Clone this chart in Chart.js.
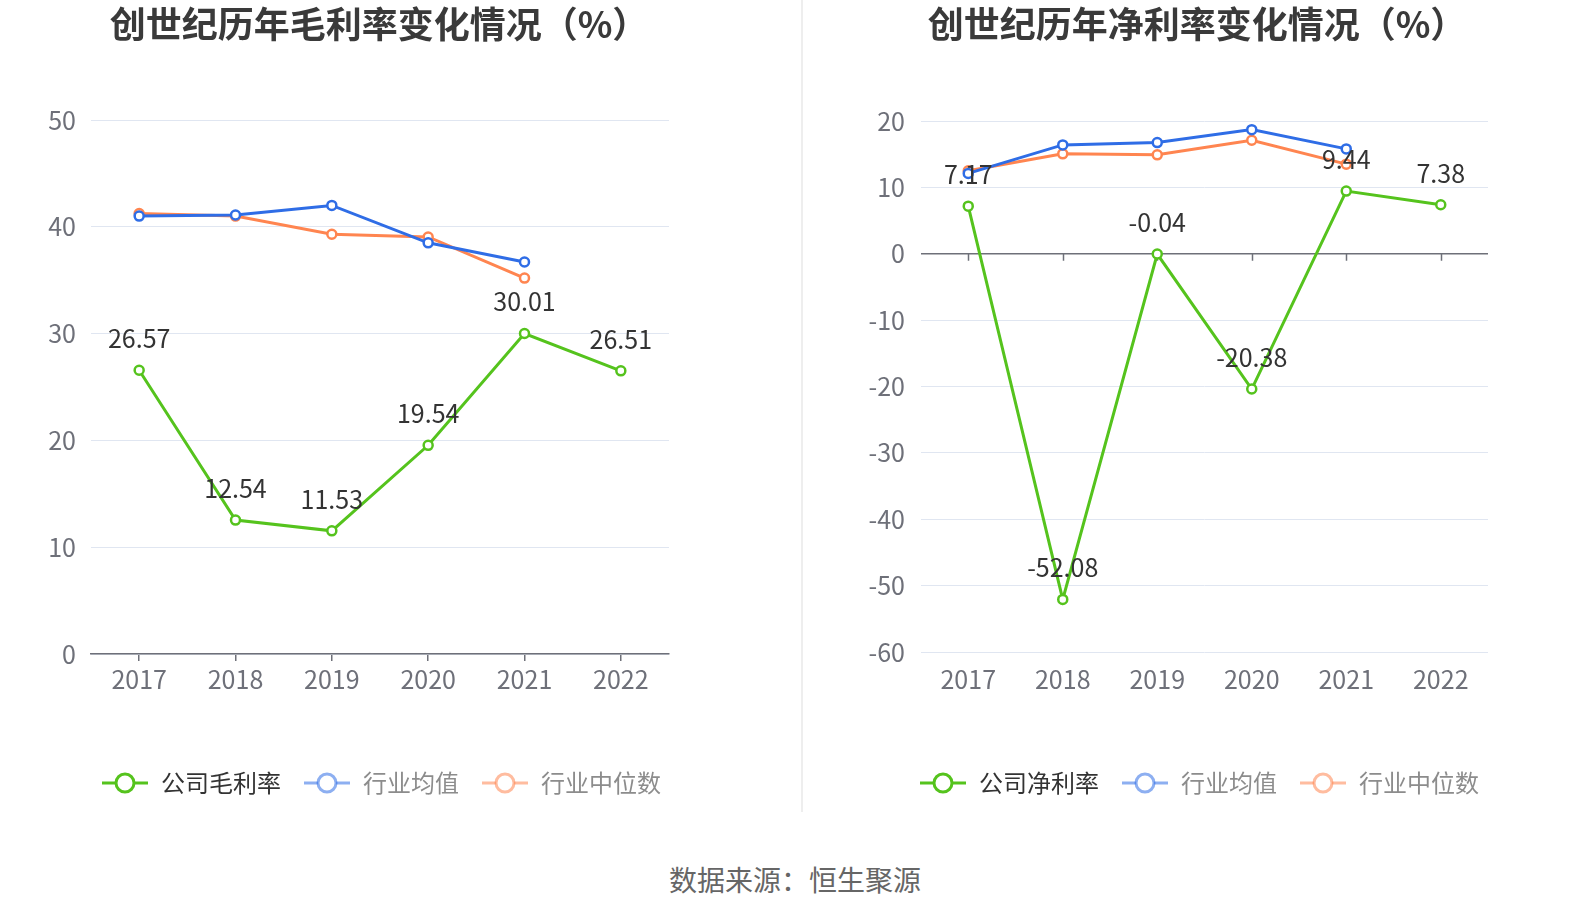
<!DOCTYPE html>
<html lang="zh-CN">
<head>
<meta charset="UTF-8">
<title>创世纪历年毛利率、净利率变化情况</title>
<script src="https://cdn.jsdelivr.net/npm/chart.js"></script>
<style>
  body { margin: 0; background: #ffffff; font-family: 'Noto Sans CJK SC', 'Noto Sans', sans-serif; }
  #page { position: relative; width: 1590px; height: 918px; overflow: hidden; }
  .box { position: absolute; top: 0; height: 805px; }
  #leftBox { left: 0; width: 790px; }
  #rightBox { left: 795px; width: 795px; }
  #divider { position: absolute; left: 801px; top: 0; width: 2px; height: 812px; background: #eeeeee; }
  .title { position: absolute; top: 2px; height: 40px; line-height: 40px; text-align: center;
           font-size: 36px; font-weight: bold; color: #3a3a3a; white-space: nowrap; }
  #leftTitle { left: 9px; width: 740px; }
  #rightTitle { left: 804px; width: 786px; }
  #source { position: absolute; left: 0; width: 1590px; top: 863px; text-align: center;
            font-size: 28px; line-height: 32px; color: #666666; }
</style>
</head>
<body>
<div id="page">
  <div class="box" id="leftBox"><canvas id="grossChart"></canvas></div>
  <div id="divider"></div>
  <div class="box" id="rightBox"><canvas id="netChart"></canvas></div>
  <div class="title" id="leftTitle">创世纪历年毛利率变化情况（%）</div>
  <div class="title" id="rightTitle">创世纪历年净利率变化情况（%）</div>
  <div id="source">数据来源：恒生聚源</div>
</div>

<script>
  const YEARS = ['2017', '2018', '2019', '2020', '2021', '2022'];

  // 毛利率 (%)
  const GROSS_COMPANY = [26.57, 12.54, 11.53, 19.54, 30.01, 26.51];
  const GROSS_IND_AVG = [41.0, 41.1, 42.0, 38.5, 36.7, null];
  const GROSS_IND_MED = [41.25, 41.0, 39.3, 39.05, 35.2, null];

  // 净利率 (%)
  const NET_COMPANY = [7.17, -52.08, -0.04, -20.38, 9.44, 7.38];
  const NET_IND_AVG = [12.1, 16.4, 16.75, 18.7, 15.8, null];
  const NET_IND_MED = [12.5, 15.05, 14.9, 17.1, 13.5, null];

  const GREEN = '#55c31d';
  const BLUE = '#2f6de6';
  const ORANGE = '#ff8550';
  const AXIS = '#6e7079';
  const GRID = '#e0e6f1';
  const FONT = "'Noto Sans CJK SC', 'Noto Sans', sans-serif";

  // legend icon: short line with a ring in the middle
  function legendIcon(color, alpha) {
    const c = document.createElement('canvas');
    c.width = 48; c.height = 26;
    const g = c.getContext('2d');
    g.globalAlpha = alpha;
    g.strokeStyle = color;
    g.lineWidth = 3;
    g.beginPath(); g.moveTo(1, 13); g.lineTo(47, 13); g.stroke();
    g.globalAlpha = 1;
    g.fillStyle = '#ffffff';
    g.beginPath(); g.arc(24, 13, 9, 0, Math.PI * 2); g.fill();
    g.globalAlpha = alpha;
    g.lineWidth = 3;
    g.beginPath(); g.arc(24, 13, 9, 0, Math.PI * 2); g.stroke();
    return c;
  }

  const valueLabels = {
    id: 'valueLabels',
    afterDatasetsDraw(chart) {
      const ctx = chart.ctx;
      const meta = chart.getDatasetMeta(0);
      const data = chart.data.datasets[0].data;
      ctx.save();
      ctx.font = '25px ' + FONT;
      ctx.fillStyle = '#333333';
      ctx.textAlign = 'center';
      ctx.textBaseline = 'alphabetic';
      meta.data.forEach((pt, i) => {
        ctx.fillText(data[i].toFixed(2), pt.x, pt.y - 22);
      });
      ctx.restore();
    }
  };

  // small tick marks on the zero line of the net-margin chart
  const zeroTicks = {
    id: 'zeroTicks',
    beforeDatasetsDraw(chart) {
      if (!chart.options.plugins.zeroTicks) return;
      const x = chart.scales.x, y = chart.scales.y;
      const y0 = y.getPixelForValue(0);
      const ctx = chart.ctx;
      ctx.save();
      ctx.strokeStyle = AXIS;
      ctx.lineWidth = 1.5;
      YEARS.forEach((_, i) => {
        const px = Math.round(x.getPixelForValue(i)) + 0.5;
        ctx.beginPath(); ctx.moveTo(px, y0); ctx.lineTo(px, y0 + 7); ctx.stroke();
      });
      ctx.restore();
    }
  };

  function lineSet(label, data, color) {
    return {
      label: label,
      data: data,
      yAxisID: 'y',
      borderColor: color,
      backgroundColor: '#ffffff',
      borderWidth: 3,
      pointRadius: 4.5,
      pointHoverRadius: 5,
      pointBorderWidth: 2.5,
      pointBackgroundColor: '#ffffff',
      pointBorderColor: color,
      tension: 0,
      spanGaps: false
    };
  }

  function makeChart(id, cfg) {
    const icons = [legendIcon(GREEN, 1), legendIcon(BLUE, 0.55), legendIcon(ORANGE, 0.55)];
    const textColors = ['#333333', '#8c8c8c', '#8c8c8c'];
    new Chart(document.getElementById(id), {
      type: 'line',
      data: {
        labels: YEARS,
        datasets: [
          lineSet(cfg.companyLabel, cfg.company, GREEN),
          lineSet('行业均值', cfg.avg, BLUE),
          lineSet('行业中位数', cfg.med, ORANGE)
        ]
      },
      plugins: [valueLabels, zeroTicks],
      options: {
        responsive: true,
        maintainAspectRatio: false,
        animation: false,
        layout: { padding: { left: cfg.padLeft, right: cfg.padRight, top: cfg.padTop, bottom: 0 } },
        plugins: {
          zeroTicks: cfg.zeroTicks,
          title: { display: false },
          legend: {
            position: 'bottom',
            labels: {
              usePointStyle: true,
              pointStyleWidth: 48,
              padding: 22,
              font: { family: FONT, size: 24 },
              generateLabels: chart => chart.data.datasets.map((ds, i) => ({
                text: ds.label,
                fillStyle: ds.borderColor,
                strokeStyle: ds.borderColor,
                pointStyle: icons[i],
                fontColor: textColors[i],
                hidden: !chart.isDatasetVisible(i),
                datasetIndex: i
              }))
            }
          },
          tooltip: { enabled: false }
        },
        scales: {
          x: {
            offset: true,
            afterFit: s => { s.height = cfg.xHeight; },
            border: { display: cfg.xBorder, color: AXIS, width: 1.5 },
            grid: {
              display: cfg.xBorder,
              drawOnChartArea: false,
              drawTicks: true,
              tickLength: 7,
              color: AXIS,
              lineWidth: 1.5
            },
            ticks: { color: AXIS, padding: cfg.xPad, font: { family: FONT, size: 25 }, maxRotation: 0 }
          },
          y: {
            min: cfg.min,
            max: cfg.max,
            afterFit: s => { s.width = cfg.yWidth; },
            border: { display: false },
            grid: {
              drawTicks: false,
              color: c => (c.tick && c.tick.value === 0 && cfg.zeroTicks) ? AXIS : GRID,
              lineWidth: c => (c.tick && c.tick.value === 0 && cfg.zeroTicks) ? 1.5 : 1
            },
            ticks: { stepSize: 10, color: AXIS, padding: cfg.yPad, font: { family: FONT, size: 25 } }
          },
          // empty right-hand spacer so the legend centres under the plot
          spacer: {
            axis: 'y',
            position: 'right',
            afterFit: s => { s.width = cfg.spacer; },
            border: { display: false },
            grid: { display: false },
            ticks: { display: false }
          }
        }
      }
    });
  }

  makeChart('grossChart', {
    companyLabel: '公司毛利率',
    company: GROSS_COMPANY, avg: GROSS_IND_AVG, med: GROSS_IND_MED,
    min: 0, max: 50,
    padLeft: 0, padRight: 28, padTop: 120, yWidth: 91, yPad: 15, spacer: 93,
    xHeight: 95, xPad: 3, xBorder: true, zeroTicks: false
  });

  makeChart('netChart', {
    companyLabel: '公司净利率',
    company: NET_COMPANY, avg: NET_IND_AVG, med: NET_IND_MED,
    min: -60, max: 20,
    padLeft: 13, padRight: 0, padTop: 121, yWidth: 113, yPad: 16, spacer: 102,
    xHeight: 97, xPad: 5, xBorder: false, zeroTicks: true
  });
</script>
</body>
</html>
